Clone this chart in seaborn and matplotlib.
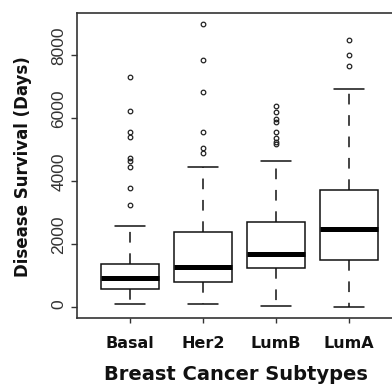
import matplotlib
matplotlib.use("Agg")
import matplotlib.pyplot as plt
import matplotlib.transforms as mtransforms
import seaborn as sns
import pandas as pd

# Data (days)
subtypes = ["Basal", "Her2", "LumB", "LumA"]

basal = [95, 150, 210, 270, 320, 370, 410, 450, 490, 530, 570,
         600, 630, 660, 700, 740, 780, 820, 860, 900, 933,
         970, 1010, 1050, 1090, 1140, 1190, 1240, 1290, 1330, 1380,
         2570, 3250, 3790, 4430, 4620, 4740, 5410, 5540, 6210, 7290]

her2 = [95, 200, 320, 430, 540, 640, 730, 800,
        860, 920, 980, 1040, 1110, 1190, 1270,
        1400, 1560, 1720, 1880, 2040, 2220, 2390,
        4460, 4890, 5050, 5570, 6820, 7830, 8980]

lumb = [30, 200, 380, 540, 690, 830, 960, 1070, 1160, 1240,
        1290, 1340, 1390, 1440, 1490, 1540, 1590, 1640, 1690,
        1790, 1900, 2010, 2120, 2240, 2360, 2480, 2600, 2710,
        4650, 5190, 5250, 5380, 5540, 5860, 5960, 6180, 6370]

luma = [0, 300, 600, 900, 1200, 1500,
        1700, 1900, 2100, 2300, 2480,
        2700, 2950, 3200, 3450, 3700,
        5200, 6910, 7640, 7990, 8470]

yticks = [0, 2000, 4000, 6000, 8000]

groups = {"Basal": basal, "Her2": her2, "LumB": lumb, "LumA": luma}
df = pd.DataFrame(
    [(k, v) for k in subtypes for v in groups[k]],
    columns=["subtype", "days"],
)

sns.set_style("white")
plt.rcParams["font.family"] = ["DejaVu Sans"]

fig = plt.figure(figsize=(3.92, 3.89), dpi=100)
ax = fig.add_axes([77 / 392, 71 / 389, 325 / 392, 305 / 389])

sns.boxplot(
    data=df, x="subtype", y="days", order=subtypes, ax=ax,
    color="white", linecolor="#111111", linewidth=1.1, width=0.8,
    fliersize=3.3,
    medianprops=dict(linewidth=3.6, color="black", solid_capstyle="butt"),
    whiskerprops=dict(linestyle=(0, (7, 7)), linewidth=1.1),
    flierprops=dict(marker="o", markerfacecolor="none",
                    markeredgecolor="#222222", markeredgewidth=0.9),
)

ax.set_xlim(-0.726, 3.726)
ax.set_ylim(-349, 9333)
ax.set_yticks(yticks)
ax.set_yticklabels([str(t) for t in yticks])

for side in ["left", "right", "top", "bottom"]:
    ax.spines[side].set_visible(True)
    ax.spines[side].set_color("#333333")
    ax.spines[side].set_linewidth(1.2)

ax.tick_params(axis="x", direction="out", length=3.6, width=1.0,
               color="#333333", pad=9, labelsize=11.5, bottom=True)
ax.tick_params(axis="y", direction="out", length=4.5, width=1.0,
               color="#333333", pad=3, labelsize=12.5, left=True,
               labelcolor="#333333")
for lab in ax.get_xticklabels():
    lab.set_fontweight("bold")
    lab.set_color("#111111")

for lab in ax.get_yticklabels():
    lab.set_rotation(90)
    lab.set_va("center")
    lab.set_ha("right")
    lab.set_family(["Liberation Sans"])
    shift = -3 if lab.get_text() == "0" else -9
    lab.set_transform(lab.get_transform() + mtransforms.ScaledTranslation(
        0, -shift / 100.0, fig.dpi_scale_trans))

ax.set_xlabel("Breast Cancer Subtypes", fontsize=14, fontweight="bold",
              color="#111111")
ax.set_ylabel("Disease Survival (Days)", fontsize=12, fontweight="bold",
              color="#111111")
ax.xaxis.set_label_coords(0.489, -0.154)
ax.xaxis.label.set_va("top")
ax.yaxis.set_label_coords(-0.166, 0.495)
ax.yaxis.label.set_va("center")

fig.savefig("out.png", dpi=100)
